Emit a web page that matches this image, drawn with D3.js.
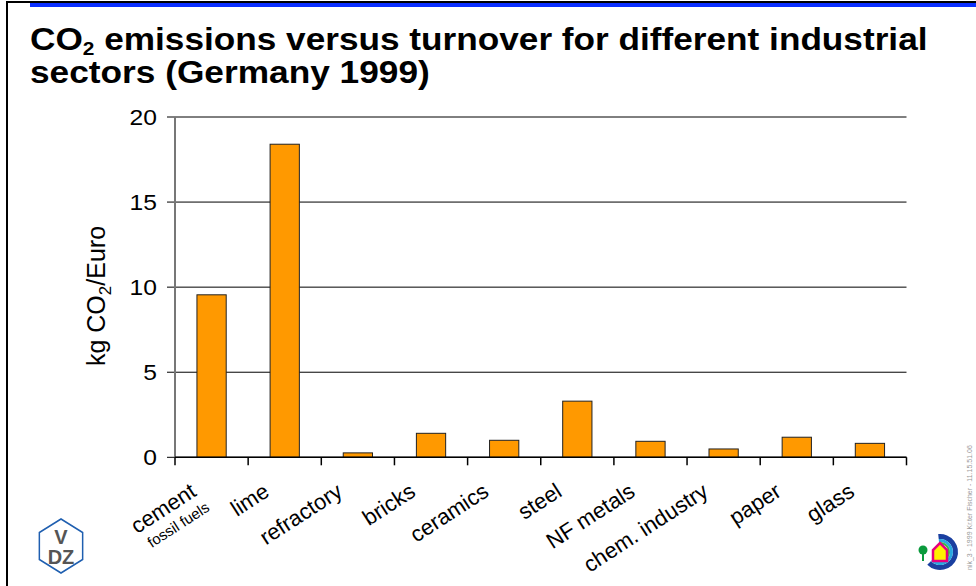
<!DOCTYPE html>
<html>
<head>
<meta charset="utf-8">
<script src="https://cdn.jsdelivr.net/npm/d3@7"></script>
<style>
  body { margin: 0; background: #fff; }
  svg { display: block; font-family: Arial, "Liberation Sans", sans-serif; }
</style>
</head>
<body>
<svg id="chart" width="976" height="586"></svg>
<script>
// CO2 emissions per turnover, Germany 1999
const categories = ['cement', 'lime', 'refractory', 'bricks', 'ceramics', 'steel', 'NF metals', 'chem. industry', 'paper', 'glass'];
const values = [9.55, 18.4, 0.26, 1.41, 1.0, 3.3, 0.94, 0.49, 1.18, 0.82];
const yTicks = [0, 5, 10, 15, 20];

const svg = d3.select('#chart');

// slide frame: black rule at left/top, blue bar on top
svg.append('line').attr('x1', 7).attr('x2', 7).attr('y1', 2).attr('y2', 586)
    .attr('stroke', '#000').attr('stroke-width', 2);
svg.append('line').attr('x1', 6).attr('x2', 976).attr('y1', 2).attr('y2', 2)
    .attr('stroke', '#000').attr('stroke-width', 2);
svg.append('rect').attr('x', 30).attr('y', 3).attr('width', 946).attr('height', 4)
    .attr('fill', '#0a2eff');

// title (slide is stretched horizontally, so fit each line to its width)
function fitLine(sel, x0, y0, width) {
  sel.attr('transform', `translate(${x0},${y0})`);
  const w = sel.node().getBBox().width;
  sel.attr('transform', `translate(${x0},${y0}) scale(${width / w},1)`);
}
const title = svg.append('text')
    .style('font-size', '32px').style('font-weight', 'bold').attr('fill', '#000');
title.append('tspan').text('CO');
title.append('tspan').attr('dy', 5).style('font-size', '19px').text('2');
title.append('tspan').attr('dy', -5).text(' emissions versus turnover for different industrial');
fitLine(title, 30, 50, 898);
const title2 = svg.append('text')
    .style('font-size', '32px').style('font-weight', 'bold').attr('fill', '#000')
    .text('sectors (Germany 1999)');
fitLine(title2, 30, 83, 400);

// scales
const x = d3.scaleBand().domain(categories).range([175, 906.5]).padding(0);
const y = d3.scaleLinear().domain([0, 20]).range([457.3, 117]);
const barW = x.bandwidth() * 0.4;

// gridlines with small left ticks
svg.append('g').selectAll('line').data(yTicks).join('line')
    .attr('x1', 167).attr('x2', 906.5)
    .attr('y1', d => y(d)).attr('y2', d => y(d))
    .attr('stroke', '#000').attr('stroke-width', 1);

// y tick labels
svg.append('g').selectAll('text').data(yTicks).join('text')
    .attr('transform', d => `translate(157,${y(d)}) scale(1.12,1)`)
    .attr('text-anchor', 'end')
    .attr('dy', '0.36em')
    .style('font-size', '22px')
    .attr('fill', '#000')
    .text(d3.format('d'));

// y axis line
svg.append('line').attr('x1', 175).attr('x2', 175).attr('y1', y(20)).attr('y2', y(0))
    .attr('stroke', '#777').attr('stroke-width', 2);

// bars
svg.append('g').selectAll('rect').data(categories).join('rect')
    .attr('x', d => x(d) + (x.bandwidth() - barW) / 2)
    .attr('y', (d, i) => y(values[i]))
    .attr('width', barW)
    .attr('height', (d, i) => y(0) - y(values[i]))
    .attr('fill', '#ff9900')
    .attr('stroke', '#222').attr('stroke-width', 1);

// x axis line and ticks at band edges
svg.append('line').attr('x1', 175).attr('x2', 906.5).attr('y1', y(0)).attr('y2', y(0))
    .attr('stroke', '#000').attr('stroke-width', 1.5);
const edges = categories.map(c => x(c)).concat([x.range()[1]]);
svg.append('g').selectAll('line').data(edges).join('line')
    .attr('x1', d => d).attr('x2', d => d)
    .attr('y1', y(0)).attr('y2', y(0) + 8)
    .attr('stroke', '#000').attr('stroke-width', 1.5);

// category labels, rotated
svg.append('g').selectAll('text').data(categories).join('text')
    .attr('transform', d => `translate(${x(d) + x.bandwidth() / 2 - 14},495) rotate(-33)`)
    .attr('text-anchor', 'end')
    .style('font-size', '22px')
    .attr('fill', '#000')
    .text(d => d);
svg.append('text')
    .attr('transform', `translate(${x('cement') + x.bandwidth() / 2 - 1},510) rotate(-33)`)
    .attr('text-anchor', 'end')
    .style('font-size', '15px')
    .attr('fill', '#000')
    .text('fossil fuels');

// y axis title
const yl = svg.append('text')
    .attr('transform', 'translate(105,296) rotate(-90)')
    .attr('text-anchor', 'middle')
    .style('font-size', '25px').attr('fill', '#000');
yl.append('tspan').text('kg CO');
yl.append('tspan').attr('dy', 6).style('font-size', '17px').text('2');
yl.append('tspan').attr('dy', -6).text('/Euro');

// tiny footer text at right edge
svg.append('text')
    .attr('transform', 'translate(972,570) rotate(-90)')
    .style('font-size', '7px').attr('fill', '#999')
    .text('nik_3 - 1999 Kr.ter Fischer - 11.15.51.06');

// VDZ logo (bottom left)
const vdz = svg.append('g').attr('transform', 'translate(61,546)');
const hex = d3.range(6).map(i => {
  const a = i * Math.PI / 3 - Math.PI / 2;
  return [25 * Math.cos(a), 27 * Math.sin(a)];
});
vdz.append('polygon').attr('points', hex.map(p => p.join(',')).join(' '))
    .attr('fill', 'none').attr('stroke', '#1f5fb0').attr('stroke-width', 1.5);
vdz.append('text').attr('x', 0).attr('y', -2).attr('text-anchor', 'middle')
    .style('font-size', '20px').style('font-weight', 'bold').attr('fill', '#555').text('V');
vdz.append('text').attr('x', 0).attr('y', 18).attr('text-anchor', 'middle')
    .style('font-size', '20px').style('font-weight', 'bold').attr('fill', '#555').text('DZ');

// house logo (bottom right)
const hl = svg.append('g').attr('transform', 'translate(940,552)');
const ringArc = (r0, r1) => d3.arc().innerRadius(r0).outerRadius(r1).startAngle(-0.1).endAngle(Math.PI * 1.25);
hl.append('path').attr('d', ringArc(13, 18)()).attr('fill', '#1a3fa0');
hl.append('path').attr('d', ringArc(10, 13)()).attr('fill', '#29a8e0');
hl.append('path').attr('d', ringArc(8, 10)()).attr('fill', '#3cb54a');
hl.append('polygon').attr('points', '-7,9 -7,-2 0,-9 7,-2 7,9')
    .attr('fill', '#fff200').attr('stroke', '#e6007e').attr('stroke-width', 2.5);
hl.append('circle').attr('cx', -17).attr('cy', -2).attr('r', 4.5).attr('fill', '#0a9a3c');
hl.append('rect').attr('x', -18).attr('y', 1).attr('width', 2).attr('height', 8).attr('fill', '#0a9a3c');
</script>
</body>
</html>
